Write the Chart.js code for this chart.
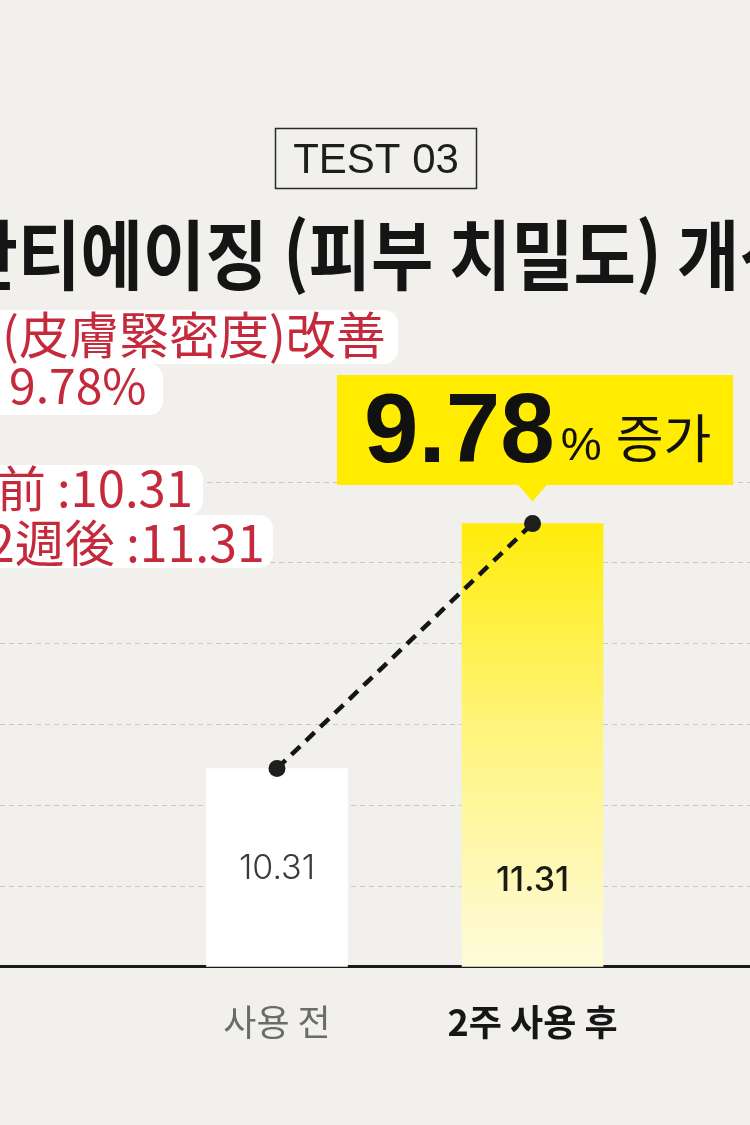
<!DOCTYPE html>
<html lang="ko">
<head>
<meta charset="utf-8">
<title>TEST 03 - 피부 치밀도</title>
<script src="https://cdn.jsdelivr.net/npm/chart.js@4.4.1/dist/chart.umd.min.js"></script>
<style>
  html, body { margin: 0; padding: 0; background: #f1f0ec; }
  #wrap { position: relative; width: 750px; height: 1125px; overflow: hidden; }
</style>
</head>
<body>
<div id="wrap"><canvas id="densityChart" width="750" height="1125"></canvas></div>
<script>
// === DATA ===
const categories = ["사용 전", "2주 사용 후"];
const categoryPos = [0, 1];
const densityValues = [10.31, 11.31];
const gridTicks = [9.5, 9.83, 10.16, 10.49, 10.82, 11.15, 11.48];
const increaseText = "9.78";

// texts around the chart
const badgeText = "TEST 03";
const titleText = "안티에이징 (피부 치밀도) 개선";
const noteLines = ["(皮膚緊密度)改善", "9.78%", "前 :10.31", "2週後 :11.31"];

// === STYLE ===
const BG = "#f1f0ec";
const RED = "#c42a3c";
const valueLift = [88, 76]; // how far above the baseline the value text sits

const xMin = -1.084;
const xMax = 1.851;

// background + overlay drawing
const decorPlugin = {
  id: "decor",
  beforeDraw(chart) {
    const ctx = chart.ctx;
    ctx.save();
    ctx.fillStyle = BG;
    ctx.fillRect(0, 0, chart.width, chart.height);
    ctx.restore();
  },
  afterDatasetsDraw(chart) {
    const ctx = chart.ctx;
    const bars = chart.getDatasetMeta(1).data;
    const base = chart.scales.y.getPixelForValue(gridTicks[0]);
    ctx.save();
    ctx.textAlign = "center";
    ctx.textBaseline = "alphabetic";
    bars.forEach((bar, i) => {
      ctx.font = i === 0 ? "300 34px Inter" : "500 34px Inter";
      ctx.fillStyle = i === 0 ? "#3a3a3a" : "#1b1b16";
      ctx.fillText(densityValues[i].toFixed(2), bar.x, base - valueLift[i]);
    });
    ctx.restore();
  },
  afterDraw(chart) {
    const ctx = chart.ctx;
    ctx.save();
    ctx.textBaseline = "alphabetic";

    // 1. TEST 03 badge
    ctx.strokeStyle = "#2b2b2b";
    ctx.lineWidth = 1.5;
    ctx.strokeRect(275.5, 128.5, 201, 60);
    ctx.fillStyle = "#1e1e1e";
    ctx.font = "42px 'Liberation Sans'";
    ctx.textAlign = "center";
    ctx.fillText(badgeText, 376, 173);

    // 2. title (cropped on both sides like the source)
    // stretch so that "티" starts near x=18 and "개" near x=677
    ctx.font = "bold 76px 'Noto Sans CJK KR'";
    ctx.textAlign = "left";
    const wFirst = ctx.measureText("안").width;
    const wToGae = ctx.measureText("안티에이징 (피부 치밀도) ").width;
    const sx = (677 - 18) / (wToGae - wFirst);
    ctx.save();
    ctx.translate(18 - wFirst * sx, 0);
    ctx.scale(sx, 1);
    ctx.fillStyle = "#151515";
    ctx.fillText(titleText, 0, 284);
    ctx.restore();

    // 3. red note boxes
    const boxes = [
      { x: -20, y: 310, w: 418, h: 54, tx: 2, ty: 354, size: 50 },
      { x: -20, y: 364, w: 183, h: 51, tx: 9, ty: 404, size: 48 },
      { x: -20, y: 465, w: 223, h: 50, tx: -3, ty: 507, size: 49 },
      { x: -20, y: 515, w: 293, h: 53, tx: -13, ty: 562, size: 50 }
    ];
    boxes.forEach((b, i) => {
      ctx.fillStyle = "#ffffff";
      ctx.beginPath();
      ctx.roundRect(b.x, b.y, b.w, b.h, 14);
      ctx.fill();
      ctx.fillStyle = RED;
      ctx.font = b.size + "px 'Noto Sans CJK TC'";
      ctx.fillText(noteLines[i], b.tx, b.ty);
    });

    // 4. yellow callout pointing to the second point
    const pt = chart.getDatasetMeta(0).data[1];
    ctx.fillStyle = "#ffec00";
    ctx.fillRect(337, 375, 396, 110);
    ctx.beginPath();
    ctx.moveTo(pt.x - 15, 484);
    ctx.lineTo(pt.x + 15, 484);
    ctx.lineTo(pt.x, pt.y - 22);
    ctx.closePath();
    ctx.fill();

    ctx.fillStyle = "#111111";
    ctx.font = "bold 98px 'Liberation Sans'";
    ctx.fillText(increaseText, 364, 462);
    let x = 364 + ctx.measureText(increaseText).width + 6;
    ctx.font = "46px 'Liberation Sans'";
    ctx.fillText("%", x, 460);
    x += ctx.measureText("%").width + 14;
    ctx.font = "52px 'Noto Sans CJK KR'";
    ctx.fillText("증가", x, 458);

    ctx.restore();
  }
};

function yellowGradient(context) {
  const chart = context.chart;
  const area = chart.chartArea;
  if (!area) return "#ffec00";
  const top = chart.scales.y.getPixelForValue(densityValues[1]);
  const g = chart.ctx.createLinearGradient(0, top, 0, area.bottom);
  g.addColorStop(0, "#ffec0a");
  g.addColorStop(0.45, "#fff47a");
  g.addColorStop(1, "#fefbdc");
  return g;
}

const ctx = document.getElementById("densityChart").getContext("2d");
const densityChart = new Chart(ctx, {
  type: "bar",
  data: {
    datasets: [
      {
        type: "line",
        data: categoryPos.map((p, i) => ({ x: p, y: densityValues[i] })),
        borderColor: "#151515",
        borderWidth: 4.5,
        borderDash: [12, 8],
        pointRadius: 8.5,
        pointBackgroundColor: "#1e1e1e",
        pointBorderWidth: 0,
        order: 0
      },
      {
        type: "bar",
        data: categoryPos.map((p, i) => ({ x: p, y: densityValues[i] })),
        backgroundColor: (c) => c.dataIndex === 0 ? "#ffffff" : yellowGradient(c),
        borderWidth: 0,
        barThickness: 141,
        order: 1
      }
    ]
  },
  options: {
    responsive: false,
    animation: false,
    devicePixelRatio: 1,
    layout: { autoPadding: false, padding: { top: 482, bottom: 47, left: 0, right: 0 } },
    plugins: { legend: { display: false }, tooltip: { enabled: false } },
    scales: {
      x: {
        type: "linear",
        offset: false,
        min: xMin,
        max: xMax,
        afterBuildTicks: (scale) => { scale.ticks = categoryPos.map(v => ({ value: v })); },
        ticks: {
          padding: 34,
          callback: (v) => categories[v],
          color: (c) => c.index === 0 ? "#6b6b6b" : "#161616",
          font: (c) => ({ family: "'Noto Sans CJK KR'", size: 36, weight: c.index === 0 ? "normal" : "bold" })
        },
        grid: { display: false, drawTicks: false },
        border: { display: true, color: "#1a1a1a", width: 3 }
      },
      y: {
        min: gridTicks[0],
        max: gridTicks[gridTicks.length - 1],
        afterBuildTicks: (scale) => { scale.ticks = gridTicks.map(v => ({ value: v })); },
        ticks: { display: false },
        grid: { color: "#c9c8c3", lineWidth: 1, drawTicks: false, tickLength: 0 },
        border: { display: false, dash: [5, 4] }
      }
    }
  },
  plugins: [decorPlugin]
});
</script>
</body>
</html>
